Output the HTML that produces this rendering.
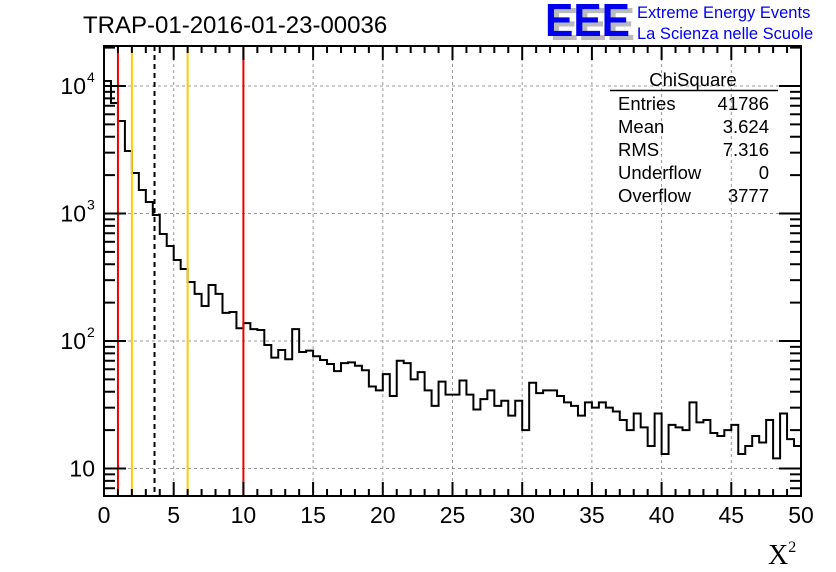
<!DOCTYPE html>
<html><head><meta charset="utf-8"><style>
body{margin:0;background:#fff;}
svg{display:block;font-family:"Liberation Sans",sans-serif;}
</style></head><body>
<svg id="chart" width="836" height="572" viewBox="0 0 836 572" xmlns="http://www.w3.org/2000/svg">
<rect width="836" height="572" fill="#fff"/>
<text x="83" y="33" font-size="24">TRAP-01-2016-01-23-00036</text>
<g>
<text x="550" y="40" font-size="46" font-weight="bold" fill="#bbb" textLength="85" lengthAdjust="spacingAndGlyphs">EEE</text>
<text x="545" y="36" font-size="46" font-weight="bold" fill="#0000ee" textLength="85" lengthAdjust="spacingAndGlyphs">EEE</text>
<text x="637" y="18" font-size="16.5" fill="#0000ee">Extreme Energy Events</text>
<text x="637" y="39" font-size="16.5" fill="#0000ee">La Scienza nelle Scuole</text>
</g>
<g id="grid"></g>
<g id="marks"></g>
<g id="axes"></g>
<g font-size="18.5">
<text x="693" y="86" text-anchor="middle">ChiSquare</text>
<line x1="610" y1="90.5" x2="778" y2="90.5" stroke="#000" stroke-width="1.5"/>
<text x="618" y="110">Entries</text><text x="769" y="110" text-anchor="end">41786</text>
<text x="618" y="133">Mean</text><text x="769" y="133" text-anchor="end">3.624</text>
<text x="618" y="156">RMS</text><text x="769" y="156" text-anchor="end">7.316</text>
<text x="618" y="179">Underflow</text><text x="769" y="179" text-anchor="end">0</text>
<text x="618" y="202">Overflow</text><text x="769" y="202" text-anchor="end">3777</text>
</g>
<text x="768" y="564" font-size="28" font-family="Liberation Serif,serif">X<tspan font-size="16" dy="-12">2</tspan></text>
</svg>
<script>
const binValues=[10940,7360,5315,3090,2080,1528,1230,973,690,556,432,367,290,234,188,275,234,166,169,126,138,124,122,93,74,85,72,124,
82,84,76,71,66,58,67,68,64,59,44,41,55,37,70,67,50,57,41,31,48,38,38,49,38,29,35,41,31,34,26,34,20,47,39,41,
41,37,33,31,26,33,30,33,30,28,24,20,27,21,15,27,13,22,21,20,33,23,24,19,18,20,22,13,15,18,16,24,12,27,17,15];
const binWidth=0.5;
const xTicks=[0,5,10,15,20,25,30,35,40,45,50];
const yTicks=[10,100,1000,10000];
const yTickExps=["","2","3","4"];
const redLines=[1,10];
const orangeLines=[2,6];
const meanLine=[3.624];
const L=104,R=801,T=46,B=496;
const xs=v=>L+(v-0)/50*(R-L);
const ys=v=>86+(4-Math.log10(v))*127.5;
const NS='http://www.w3.org/2000/svg';
function mk(tag,attrs,parent){const e=document.createElementNS(NS,tag);for(const k in attrs)e.setAttribute(k,attrs[k]);parent.appendChild(e);return e;}
const grid=document.getElementById('grid'),marks=document.getElementById('marks'),axes=document.getElementById('axes');
xTicks.forEach(t=>{if(t>0&&t<50){const l=mk('line',{x1:xs(t),x2:xs(t),y1:T,y2:B,stroke:'#999','stroke-dasharray':'3,3'},grid);

}});
yTicks.forEach(t=>{const l=mk('line',{x1:L,x2:R,y1:ys(t),y2:ys(t),stroke:'#999','stroke-dasharray':'3,3'},grid);

});
let d='M'+L+','+B;
binValues.forEach((v,i)=>{const y=Math.min(B,ys(v));d+=' L'+xs(i*binWidth)+','+y+' L'+xs((i+1)*binWidth)+','+y;});
d+=' L'+R+','+B;
const h=mk('path',{d:d,fill:'none',stroke:'#000','stroke-width':2},marks);


redLines.forEach(v=>{const l=mk('line',{x1:xs(v),x2:xs(v),y1:T,y2:B,stroke:'#ee0000','stroke-width':2},marks);

});
orangeLines.forEach(v=>{const l=mk('line',{x1:xs(v),x2:xs(v),y1:T,y2:B,stroke:'#ffcc00','stroke-width':2},marks);

});
meanLine.forEach(v=>{const l=mk('line',{x1:xs(v),x2:xs(v),y1:T,y2:B,stroke:'#000','stroke-width':2,'stroke-dasharray':'5,4'},marks);

});
const f=mk('rect',{x:L,y:T,width:R-L,height:B-T,fill:'none',stroke:'#000','stroke-width':2},axes);


for(let v=0;v<=50;v++){const len=(v%5===0)?14:7;
mk('line',{x1:xs(v),x2:xs(v),y1:B,y2:B-len,stroke:'#000','stroke-width':2},axes);
mk('line',{x1:xs(v),x2:xs(v),y1:T,y2:T+len,stroke:'#000','stroke-width':2},axes);}
xTicks.forEach(t=>{const e=mk('text',{x:xs(t),y:523,'font-size':23,'text-anchor':'middle'},axes);e.textContent=t;

});
for(let dec=0;dec<=4;dec++){for(let m=1;m<10;m++){const v=m*Math.pow(10,dec);const y=ys(v);if(y<T||y>B)continue;
const len=m===1?22:11;
mk('line',{x1:L,x2:L+len,y1:y,y2:y,stroke:'#000','stroke-width':2},axes);
mk('line',{x1:R,x2:R-len,y1:y,y2:y,stroke:'#000','stroke-width':2},axes);}}
yTicks.forEach((t,i)=>{const e=mk('text',{x:yTickExps[i]?86:95,y:ys(t)+8,'font-size':23,'text-anchor':'end'},axes);e.textContent='10';


if(yTickExps[i]){const s=mk('text',{x:87,y:ys(t)-4,'font-size':14},axes);s.textContent=yTickExps[i];

}});
</script>
</body></html>
